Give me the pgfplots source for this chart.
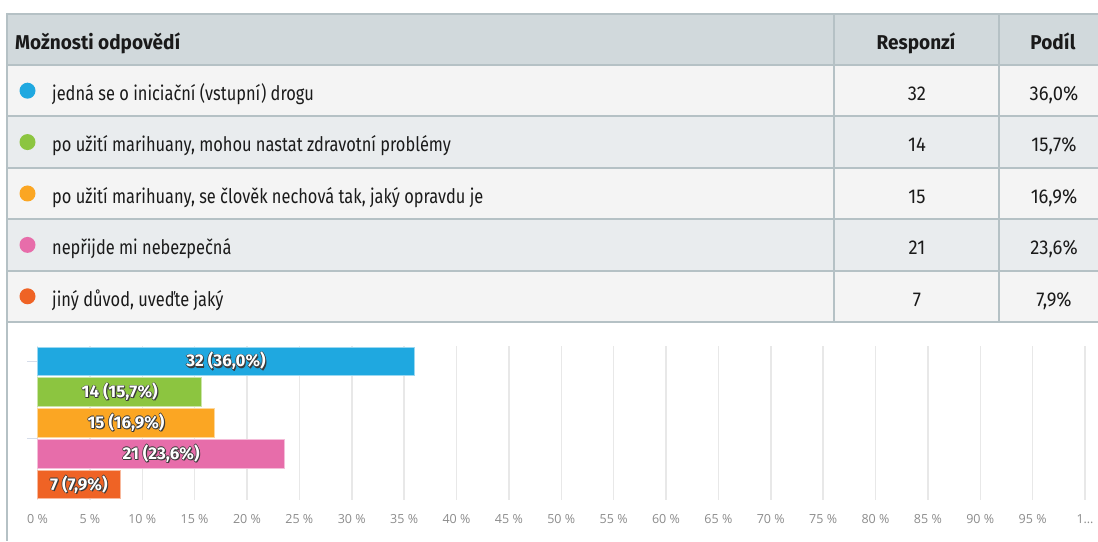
\documentclass[border=0pt]{standalone}
\usepackage{fontspec}
\setmainfont{Fira Sans}[FakeStretch=0.82]
\newfontfamily\hdfont{Fira Sans}[FakeStretch=0.95]
\newfontfamily\numfont{Fira Sans}[FakeStretch=0.92]
\newfontfamily\lblfont{Fira Sans}
\newfontfamily\tickfont{Open Sans}
\usepackage{pgfplots}
\pgfplotsset{compat=1.18}
\definecolor{cBlue}{HTML}{1FA8E0}
\definecolor{cGreen}{HTML}{8CC540}
\definecolor{cOrange}{HTML}{FBA623}
\definecolor{cPink}{HTML}{E76DAA}
\definecolor{cRed}{HTML}{EF6325}
\definecolor{hdr}{HTML}{D1D9DC}
\definecolor{rowA}{HTML}{F4F4F4}
\definecolor{rowB}{HTML}{E9ECEE}
\definecolor{tline}{HTML}{B5C1C5}
\definecolor{gridc}{HTML}{E8E8E8}
\definecolor{tickc}{HTML}{8C8C8C}
\definecolor{olc}{HTML}{3A3A3A}
\definecolor{ytc}{HTML}{D6DDEA}
\definecolor{txt}{HTML}{1A1A1A}
\newcommand\ot[1]{\rlap{\kern-.7pt\textcolor{olc}{#1}}\rlap{\kern.7pt\textcolor{olc}{#1}}\rlap{\raisebox{.7pt}{\textcolor{olc}{#1}}}\rlap{\raisebox{-.7pt}{\textcolor{olc}{#1}}}\rlap{\kern1.1pt\raisebox{-1.1pt}{\textcolor{olc}{#1}}}\textcolor{white}{#1}}
\newcommand\tf{\fontsize{20}{22}\selectfont}
\begin{document}
\begin{tikzpicture}
\path[use as bounding box] (0,0) rectangle (1098pt,541pt);
\clip (0,0) rectangle (1098pt,541pt);
\begin{scope}[x=1pt,y=1pt,every node/.style={text=txt}]
\fill[white] (0,0) rectangle (1098,541);
\fill[hdr] (7,541-14) rectangle (1098,541-65);
\foreach \i/\c in {0/rowA,1/rowB,2/rowA,3/rowB,4/rowA}{
  \fill[\c] (7,{541-(65+\i*51.4)}) rectangle (1098,{541-(65+(\i+1)*51.4)});
}
\foreach \yy in {14,65,116.4,167.8,219.2,270.6,322}{
  \draw[tline,line width=2pt] (7,541-\yy) -- (1098,541-\yy);
}
\draw[tline,line width=2.5pt] (834,541-14) -- (834,541-322);
\draw[tline,line width=2.5pt] (999,541-14) -- (999,541-322);
\draw[tline,line width=2.5pt] (7,541-13) -- (7,0);
% header
\node[anchor=base west,inner sep=0] at (15,541-49.5) {\tf\hdfont\bfseries Možnosti odpovědí};
\node[anchor=base,inner sep=0] at (916,541-49.5) {\tf\hdfont\bfseries Responzí};
\node[anchor=base,inner sep=0] at (1053,541-49.5) {\tf\hdfont\bfseries Podíl};
% rows
\foreach \i/\c/\t/\n/\p in {0/cBlue/{jedná se o iniciační (vstupní) drogu}/32/{36,0\%},
  1/cGreen/{po užití marihuany, mohou nastat zdravotní problémy}/14/{15,7\%},
  2/cOrange/{po užití marihuany, se člověk nechová tak, jaký opravdu je}/15/{16,9\%},
  3/cPink/{nepřijde mi nebezpečná}/21/{23,6\%},
  4/cRed/{jiný důvod, uveďte jaký}/7/{7,9\%}}{
  \fill[\c] (27.5,{541-(65+\i*51.4+25.7)}) circle (8);
  \node[anchor=base west,inner sep=0] at (52,{541-(65+\i*51.4+35.5)}) {\tf \t};
  \node[anchor=base,inner sep=0] at (917,{541-(65+\i*51.4+35.5)}) {\tf\numfont \n};
  \node[anchor=base,inner sep=0] at (1054,{541-(65+\i*51.4+35.5)}) {\tf\numfont \p};
}
\end{scope}
\begin{axis}[
  at={(37.5pt,41pt)}, anchor=south west, scale only axis,
  width=1047.5pt, height=154pt,
  xmin=0, xmax=100, ymin=0.5, ymax=5.5, y dir=reverse,
  axis line style={draw=none},
  xtick={0,5,...,100},
  xticklabels={0 \%,5 \%,10 \%,15 \%,20 \%,25 \%,30 \%,35 \%,40 \%,45 \%,50 \%,55 \%,60 \%,65 \%,70 \%,75 \%,80 \%,85 \%,90 \%,95 \%,1…},
  xmajorgrids, grid style={gridc,line width=1.5pt},
  major x tick style={draw=none},
  ytick={1,3.5}, yticklabels={},
  ytick pos=left, tick align=outside, major tick length=10pt,
  major y tick style={ytc,line width=1.5pt},
  xticklabel style={font=\tickfont\fontsize{12.5}{14}\selectfont, text=tickc, yshift=-1pt},
  /pgf/number format/assume math mode=true,
  clip=false,
]
\addplot[xbar, bar width=28.5pt, bar shift=0pt, fill=cBlue, draw=cBlue!45!white, line width=1pt] coordinates {(36.0,1)};
\addplot[xbar, bar width=28.5pt, bar shift=0pt, fill=cGreen, draw=cGreen!45!white, line width=1pt] coordinates {(15.7,2)};
\addplot[xbar, bar width=28.5pt, bar shift=0pt, fill=cOrange, draw=cOrange!45!white, line width=1pt] coordinates {(16.9,3)};
\addplot[xbar, bar width=28.5pt, bar shift=0pt, fill=cPink, draw=cPink!45!white, line width=1pt] coordinates {(23.6,4)};
\addplot[xbar, bar width=28.5pt, bar shift=0pt, fill=cRed, draw=cRed!45!white, line width=1pt] coordinates {(7.9,5)};
\addplot[draw=none, mark=none, nodes near coords={\ot{\pgfplotspointmeta}}, point meta=explicit symbolic,
  every node near coord/.style={anchor=center, font=\lblfont\bfseries\fontsize{17}{19}\selectfont}]
  coordinates {(18,1)[32 (36,0\%)] (7.85,2)[14 (15,7\%)] (8.45,3)[15 (16,9\%)] (11.8,4)[21 (23,6\%)] (3.95,5)[7 (7,9\%)]};
\end{axis}
\end{tikzpicture}
\end{document}
